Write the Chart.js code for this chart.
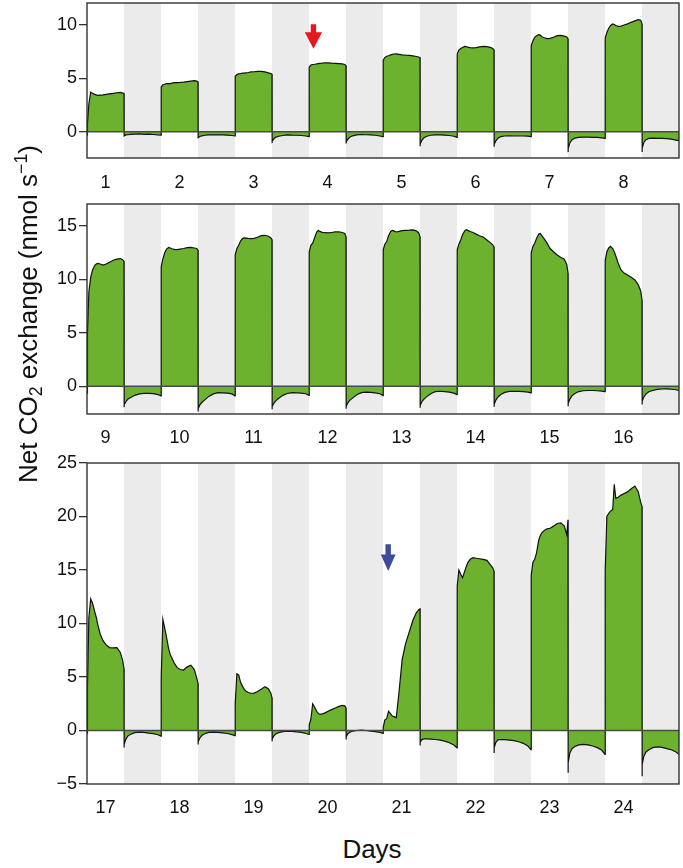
<!DOCTYPE html>
<html lang="en">
<head>
  <meta charset="UTF-8" />
  <title>Net CO2 exchange</title>
  <script src="https://cdn.jsdelivr.net/npm/chart.js"></script>
  <style>
    body { margin: 0; background: #fff; width: 683px; height: 868px; position: relative; overflow: hidden;
           font-family: "Liberation Sans", Arial, Helvetica, sans-serif; color: #111; }
    .panel { position: absolute; left: 0; width: 683px; }
    .ytitle { position: absolute; left: -182px; top: 299px; width: 420px; height: 30px; line-height: 30px;
              font-size: 26px; text-align: center; transform: rotate(-90deg); white-space: nowrap; }
    .ytitle sub { font-size: 0.68em; vertical-align: -0.3em; line-height: 0; }
    .ytitle sup { font-size: 0.68em; vertical-align: 0.55em; line-height: 0; }
    .xtitle { position: absolute; left: 272px; top: 834px; width: 200px; height: 30px; line-height: 30px;
              font-size: 26px; text-align: center; }
  </style>
</head>
<body>

  <div class="panel" style="top:0px;height:198px"><canvas id="p1"></canvas></div>
  <div class="panel" style="top:201px;height:253px"><canvas id="p2"></canvas></div>
  <div class="panel" style="top:448px;height:376px"><canvas id="p3"></canvas></div>
  <div class="ytitle">Net CO<sub>2</sub> exchange (nmol s<sup>−1</sup>)</div>
  <div class="xtitle">Days</div>

<script>
// hours of each sample inside a day: light 0-12 h, dark 12-24 h
const LIGHT_H = [0, 0.15, 0.6, 1.2, 1.8, 2.5, 3, 3.5, 4.3, 5.2, 6.2, 7.3, 8.5, 9.7, 10.8, 11.6, 12];
const DARK_H = [12, 12.1, 12.6, 13.3, 14.2, 15.5, 17, 18.5, 20, 21.5, 23, 24];

const P1_DAYS = ['1', '2', '3', '4', '5', '6', '7', '8'];
const P2_DAYS = ['9', '10', '11', '12', '13', '14', '15', '16'];
const P3_DAYS = ['17', '18', '19', '20', '21', '22', '23', '24'];

const P1_TICKS = [0, 5, 10];
const P2_TICKS = [0, 5, 10, 15];
const P3_TICKS = [-5, 0, 5, 10, 15, 20, 25];

// net CO2 exchange, nmol s-1
const P1_LIGHT = [
  [-0.3, 0.8, 2.6, 3.7, 3.6, 3.5, 3.45, 3.4, 3.43, 3.45, 3.5, 3.55, 3.6, 3.65, 3.68, 3.62, 3.58],
  [-0.32, 4.2, 4.4, 4.45, 4.5, 4.52, 4.5, 4.55, 4.6, 4.6, 4.62, 4.65, 4.7, 4.75, 4.78, 4.75, 4.65],
  [-0.4, 5.2, 5.35, 5.42, 5.45, 5.5, 5.5, 5.52, 5.55, 5.6, 5.62, 5.65, 5.65, 5.6, 5.52, 5.45, 5.38],
  [-0.45, 6.05, 6.25, 6.3, 6.32, 6.35, 6.38, 6.4, 6.42, 6.45, 6.45, 6.42, 6.4, 6.38, 6.35, 6.3, 6.2],
  [-0.47, 6.7, 6.95, 7.07, 7.12, 7.2, 7.25, 7.28, 7.3, 7.25, 7.2, 7.17, 7.15, 7.1, 7.05, 7.0, 6.95],
  [-0.53, 7.3, 7.65, 7.8, 7.9, 8.0, 7.98, 7.92, 7.87, 7.85, 7.88, 7.95, 8.0, 7.98, 7.9, 7.8, 7.65],
  [-0.45, 8.1, 8.5, 8.85, 9.0, 9.1, 9.05, 8.9, 8.8, 8.72, 8.75, 8.85, 9.0, 9.03, 8.95, 8.88, 8.72],
  [-0.62, 8.8, 9.3, 9.7, 9.95, 10.1, 10.05, 9.95, 9.88, 9.9, 10.0, 10.1, 10.25, 10.38, 10.5, 10.45, 10.1]
];
const P1_DARK = [
  [-0.45, -0.4, -0.3, -0.28, -0.25, -0.22, -0.2, -0.24, -0.22, -0.26, -0.3, -0.32],
  [-0.6, -0.55, -0.45, -0.38, -0.33, -0.3, -0.28, -0.3, -0.3, -0.32, -0.35, -0.4],
  [-1.05, -0.9, -0.65, -0.5, -0.42, -0.35, -0.3, -0.32, -0.33, -0.35, -0.4, -0.45],
  [-1.1, -0.95, -0.7, -0.5, -0.38, -0.3, -0.26, -0.28, -0.3, -0.33, -0.4, -0.47],
  [-1.35, -1.15, -0.8, -0.55, -0.42, -0.33, -0.3, -0.3, -0.32, -0.35, -0.42, -0.53],
  [-1.4, -1.2, -0.85, -0.6, -0.45, -0.4, -0.38, -0.4, -0.4, -0.4, -0.42, -0.45],
  [-1.9, -1.6, -1.05, -0.75, -0.6, -0.53, -0.5, -0.5, -0.52, -0.53, -0.58, -0.62],
  [-1.9, -1.55, -1.0, -0.75, -0.62, -0.6, -0.62, -0.62, -0.65, -0.7, -0.78, -0.84]
];

const P2_LIGHT = [
  [-0.65, 5.0, 8.8, 10.2, 10.9, 11.3, 11.45, 11.5, 11.45, 11.35, 11.45, 11.62, 11.8, 11.9, 11.96, 11.85, 11.7],
  [-0.9, 11.2, 11.9, 12.5, 12.85, 13.0, 12.95, 12.88, 12.82, 12.8, 12.85, 12.9, 12.98, 13.0, 12.95, 12.9, 12.74],
  [-0.9, 12.3, 12.9, 13.2, 13.6, 13.85, 13.9, 13.88, 13.85, 13.83, 13.85, 13.95, 14.1, 14.14, 14.05, 13.92, 13.74],
  [-0.85, 12.6, 13.2, 13.4, 13.9, 14.45, 14.6, 14.5, 14.42, 14.38, 14.36, 14.4, 14.45, 14.45, 14.4, 14.3, 13.99],
  [-0.87, 12.8, 13.3, 13.55, 14.1, 14.5, 14.6, 14.55, 14.45, 14.5, 14.58, 14.6, 14.62, 14.65, 14.55, 14.36, 14.0],
  [-0.78, 12.8, 13.3, 13.7, 14.2, 14.55, 14.67, 14.6, 14.5, 14.4, 14.25, 14.1, 13.98, 13.7, 13.45, 13.25, 13.05],
  [-0.62, 12.5, 13.1, 13.4, 13.85, 14.25, 14.3, 14.1, 13.8, 13.4, 12.9, 12.6, 12.3, 12.05, 11.9, 11.4, 10.6],
  [-0.5, 11.8, 12.6, 12.95, 13.1, 12.9, 12.6, 12.2, 11.5, 10.9, 10.6, 10.42, 10.2, 9.95, 9.5, 8.9, 8.07]
];
const P2_DARK = [
  [-1.96, -1.75, -1.45, -1.2, -1.05, -0.85, -0.72, -0.66, -0.66, -0.7, -0.78, -0.9],
  [-2.37, -2.1, -1.75, -1.5, -1.28, -0.95, -0.72, -0.6, -0.62, -0.65, -0.72, -0.9],
  [-2.15, -1.9, -1.6, -1.35, -1.12, -0.85, -0.68, -0.6, -0.62, -0.64, -0.7, -0.85],
  [-2.1, -1.9, -1.55, -1.3, -1.09, -0.8, -0.6, -0.56, -0.58, -0.62, -0.7, -0.87],
  [-2.02, -1.8, -1.45, -1.2, -0.97, -0.7, -0.5, -0.47, -0.5, -0.55, -0.65, -0.78],
  [-1.93, -1.7, -1.3, -1.0, -0.78, -0.58, -0.48, -0.47, -0.48, -0.5, -0.55, -0.62],
  [-1.87, -1.6, -1.2, -0.9, -0.68, -0.5, -0.42, -0.4, -0.4, -0.42, -0.45, -0.5],
  [-1.71, -1.4, -1.0, -0.72, -0.52, -0.4, -0.3, -0.26, -0.25, -0.28, -0.33, -0.4]
];

const P3_LIGHT = [
  [-0.3, 4.0, 10.5, 12.3, 11.9, 11.1, 10.6, 9.9, 9.0, 8.4, 8.0, 7.75, 7.72, 7.75, 7.3, 6.5, 5.76],
  [-0.53, 5.0, 10.4, 9.6, 8.7, 7.6, 7.1, 6.8, 6.3, 5.9, 5.7, 5.65, 5.95, 6.1, 5.7, 4.9, 4.39],
  [-0.47, 2.5, 5.3, 5.2, 4.5, 4.1, 3.85, 3.7, 3.55, 3.48, 3.5, 3.65, 3.85, 4.1, 3.9, 3.5, 3.05],
  [-0.37, 0.5, 1.05, 2.5, 2.2, 1.8, 1.6, 1.5, 1.55, 1.65, 1.8, 1.95, 2.1, 2.25, 2.35, 2.3, 2.1],
  [-0.28, 0.3, 1.0, 1.1, 1.8, 1.55, 1.35, 1.3, 1.2, 3.6, 6.6, 8.1, 9.2, 10.3, 11.0, 11.3, 11.37],
  [-1.62, 13.5, 15.0, 14.6, 14.27, 14.9, 15.3, 15.7, 16.0, 16.15, 16.1, 16.05, 16.0, 15.9, 15.5, 15.2, 14.9],
  [-1.78, 14.5, 15.7, 16.0, 16.6, 17.8, 18.2, 18.47, 18.7, 18.85, 18.9, 19.1, 19.35, 19.4, 19.1, 18.3, 19.7],
  [-2.24, 15.0, 20.0, 20.3, 20.5, 20.65, 23.0, 21.7, 21.8, 22.0, 22.15, 22.3, 22.6, 22.85, 22.3, 21.3, 20.96]
];
const P3_DARK = [
  [-1.6, -1.3, -0.8, -0.5, -0.35, -0.2, -0.15, -0.18, -0.25, -0.3, -0.4, -0.53],
  [-1.3, -1.05, -0.7, -0.45, -0.3, -0.18, -0.15, -0.17, -0.22, -0.28, -0.38, -0.47],
  [-1.0, -0.8, -0.5, -0.3, -0.2, -0.1, -0.06, -0.08, -0.12, -0.18, -0.28, -0.37],
  [-0.84, -0.6, -0.3, -0.15, -0.05, 0.0, 0.03, 0.0, -0.05, -0.1, -0.18, -0.28],
  [-1.4, -1.1, -0.85, -0.78, -0.78, -0.8, -0.84, -0.9, -1.0, -1.15, -1.35, -1.62],
  [-2.1, -1.6, -1.1, -0.88, -0.84, -0.86, -0.9, -0.95, -1.05, -1.2, -1.45, -1.78],
  [-3.96, -3.0, -2.1, -1.7, -1.5, -1.35, -1.3, -1.35, -1.45, -1.6, -1.85, -2.24],
  [-4.27, -3.2, -2.4, -2.0, -1.8, -1.6, -1.53, -1.58, -1.7, -1.8, -2.0, -2.24]
];

const GREEN = '#6cb22e';
const NIGHT = '#ebebeb';
const FONT = '"Liberation Sans", Arial, Helvetica, sans-serif';

function buildPoints(light, dark) {
  const pts = [];
  for (let d = 0; d < light.length; d++) {
    LIGHT_H.forEach((h, i) => pts.push({ x: d + h / 24, y: light[d][i] }));
    DARK_H.forEach((h, i) => pts.push({ x: d + h / 24, y: dark[d][i] }));
  }
  return pts;
}

// grey night bands, zero line, frame and arrows
const decorPlugin = {
  id: 'decor',
  beforeDatasetsDraw(chart) {
    const { ctx, chartArea: a, scales: { x } } = chart;
    ctx.save();
    ctx.fillStyle = NIGHT;
    for (let d = 0; d < 8; d++) {
      const x0 = x.getPixelForValue(d + 0.5), x1 = x.getPixelForValue(d + 1);
      ctx.fillRect(x0, a.top, x1 - x0, a.bottom - a.top);
    }
    ctx.restore();
  },
  afterDatasetsDraw(chart, args, opts) {
    const { ctx, chartArea: a, scales: { x, y } } = chart;
    ctx.save();
    const y0 = y.getPixelForValue(0);
    ctx.strokeStyle = '#4a4a4a';
    ctx.lineWidth = 1.3;
    ctx.beginPath();
    ctx.moveTo(a.left, y0);
    ctx.lineTo(a.right, y0);
    ctx.stroke();
    ctx.strokeStyle = '#333';
    ctx.lineWidth = 1.4;
    ctx.strokeRect(a.left, a.top, a.right - a.left, a.bottom - a.top);
    if (opts.arrow) {
      const ar = opts.arrow;
      const px = x.getPixelForValue(ar.x);
      const tip = y.getPixelForValue(ar.yTip);
      const top = y.getPixelForValue(ar.yTop);
      const headH = 16.5, headW = ar.headW, shaftW = 2.7;
      ctx.fillStyle = ar.color;
      ctx.beginPath();
      ctx.moveTo(px - shaftW, top);
      ctx.lineTo(px + shaftW, top);
      ctx.lineTo(px + shaftW, tip - headH);
      ctx.lineTo(px + headW, tip - headH);
      ctx.lineTo(px, tip);
      ctx.lineTo(px - headW, tip - headH);
      ctx.lineTo(px - shaftW, tip - headH);
      ctx.closePath();
      ctx.fill();
    }
    ctx.restore();
  }
};

function makePanel(id, light, dark, days, yTicks, yMin, yMax, padTop, labelPad, arrow) {
  new Chart(document.getElementById(id), {
    type: 'line',
    data: {
      datasets: [{
        data: buildPoints(light, dark),
        borderColor: '#111',
        borderWidth: 1.2,
        backgroundColor: GREEN,
        fill: 'origin',
        tension: 0,
        pointRadius: 0
      }]
    },
    options: {
      responsive: true,
      maintainAspectRatio: false,
      animation: false,
      layout: { padding: { top: padTop, right: 4, left: 0, bottom: 0 } },
      plugins: {
        legend: { display: false },
        tooltip: { enabled: false },
        decor: { arrow: arrow }
      },
      scales: {
        x: {
          type: 'linear',
          min: 0,
          max: 8,
          grid: { display: false, drawTicks: false },
          border: { display: false },
          afterBuildTicks: s => { s.ticks = days.map((_, i) => ({ value: i + 0.25 })); },
          afterFit: s => { s.height = 40; s.paddingLeft = 0; s.paddingRight = 0; },
          ticks: {
            autoSkip: false,
            maxRotation: 0,
            padding: labelPad,
            color: '#111',
            font: { family: FONT, size: 18 },
            callback: (v, i) => days[i]
          }
        },
        y: {
          min: yMin,
          max: yMax,
          grid: { drawOnChartArea: false, drawTicks: true, tickLength: 8, color: '#333', lineWidth: 1.3 },
          border: { display: false },
          afterBuildTicks: s => { s.ticks = yTicks.map(v => ({ value: v })); },
          afterFit: s => { s.width = 87; s.paddingTop = 0; s.paddingBottom = 0; },
          ticks: {
            padding: 2,
            color: '#111',
            font: { family: FONT, size: 18 },
            callback: v => String(v).replace('-', '\u2212')
          }
        }
      }
    },
    plugins: [decorPlugin]
  });
}

makePanel('p1', P1_LIGHT, P1_DARK, P1_DAYS, P1_TICKS, -2.46, 12.06, 3, 14,
  { x: 3.06, yTip: 7.78, yTop: 10.07, color: '#e8161e', headW: 8.6 });
makePanel('p2', P2_LIGHT, P2_DARK, P2_DAYS, P2_TICKS, -2.6, 17.07, 3, 13, null);
makePanel('p3', P3_LIGHT, P3_DARK, P3_DAYS, P3_TICKS, -5, 25, 15, 13,
  { x: 4.07, yTip: 14.9, yTop: 17.4, color: '#3e4a9c', headW: 7.4 });
</script>
</body>
</html>
